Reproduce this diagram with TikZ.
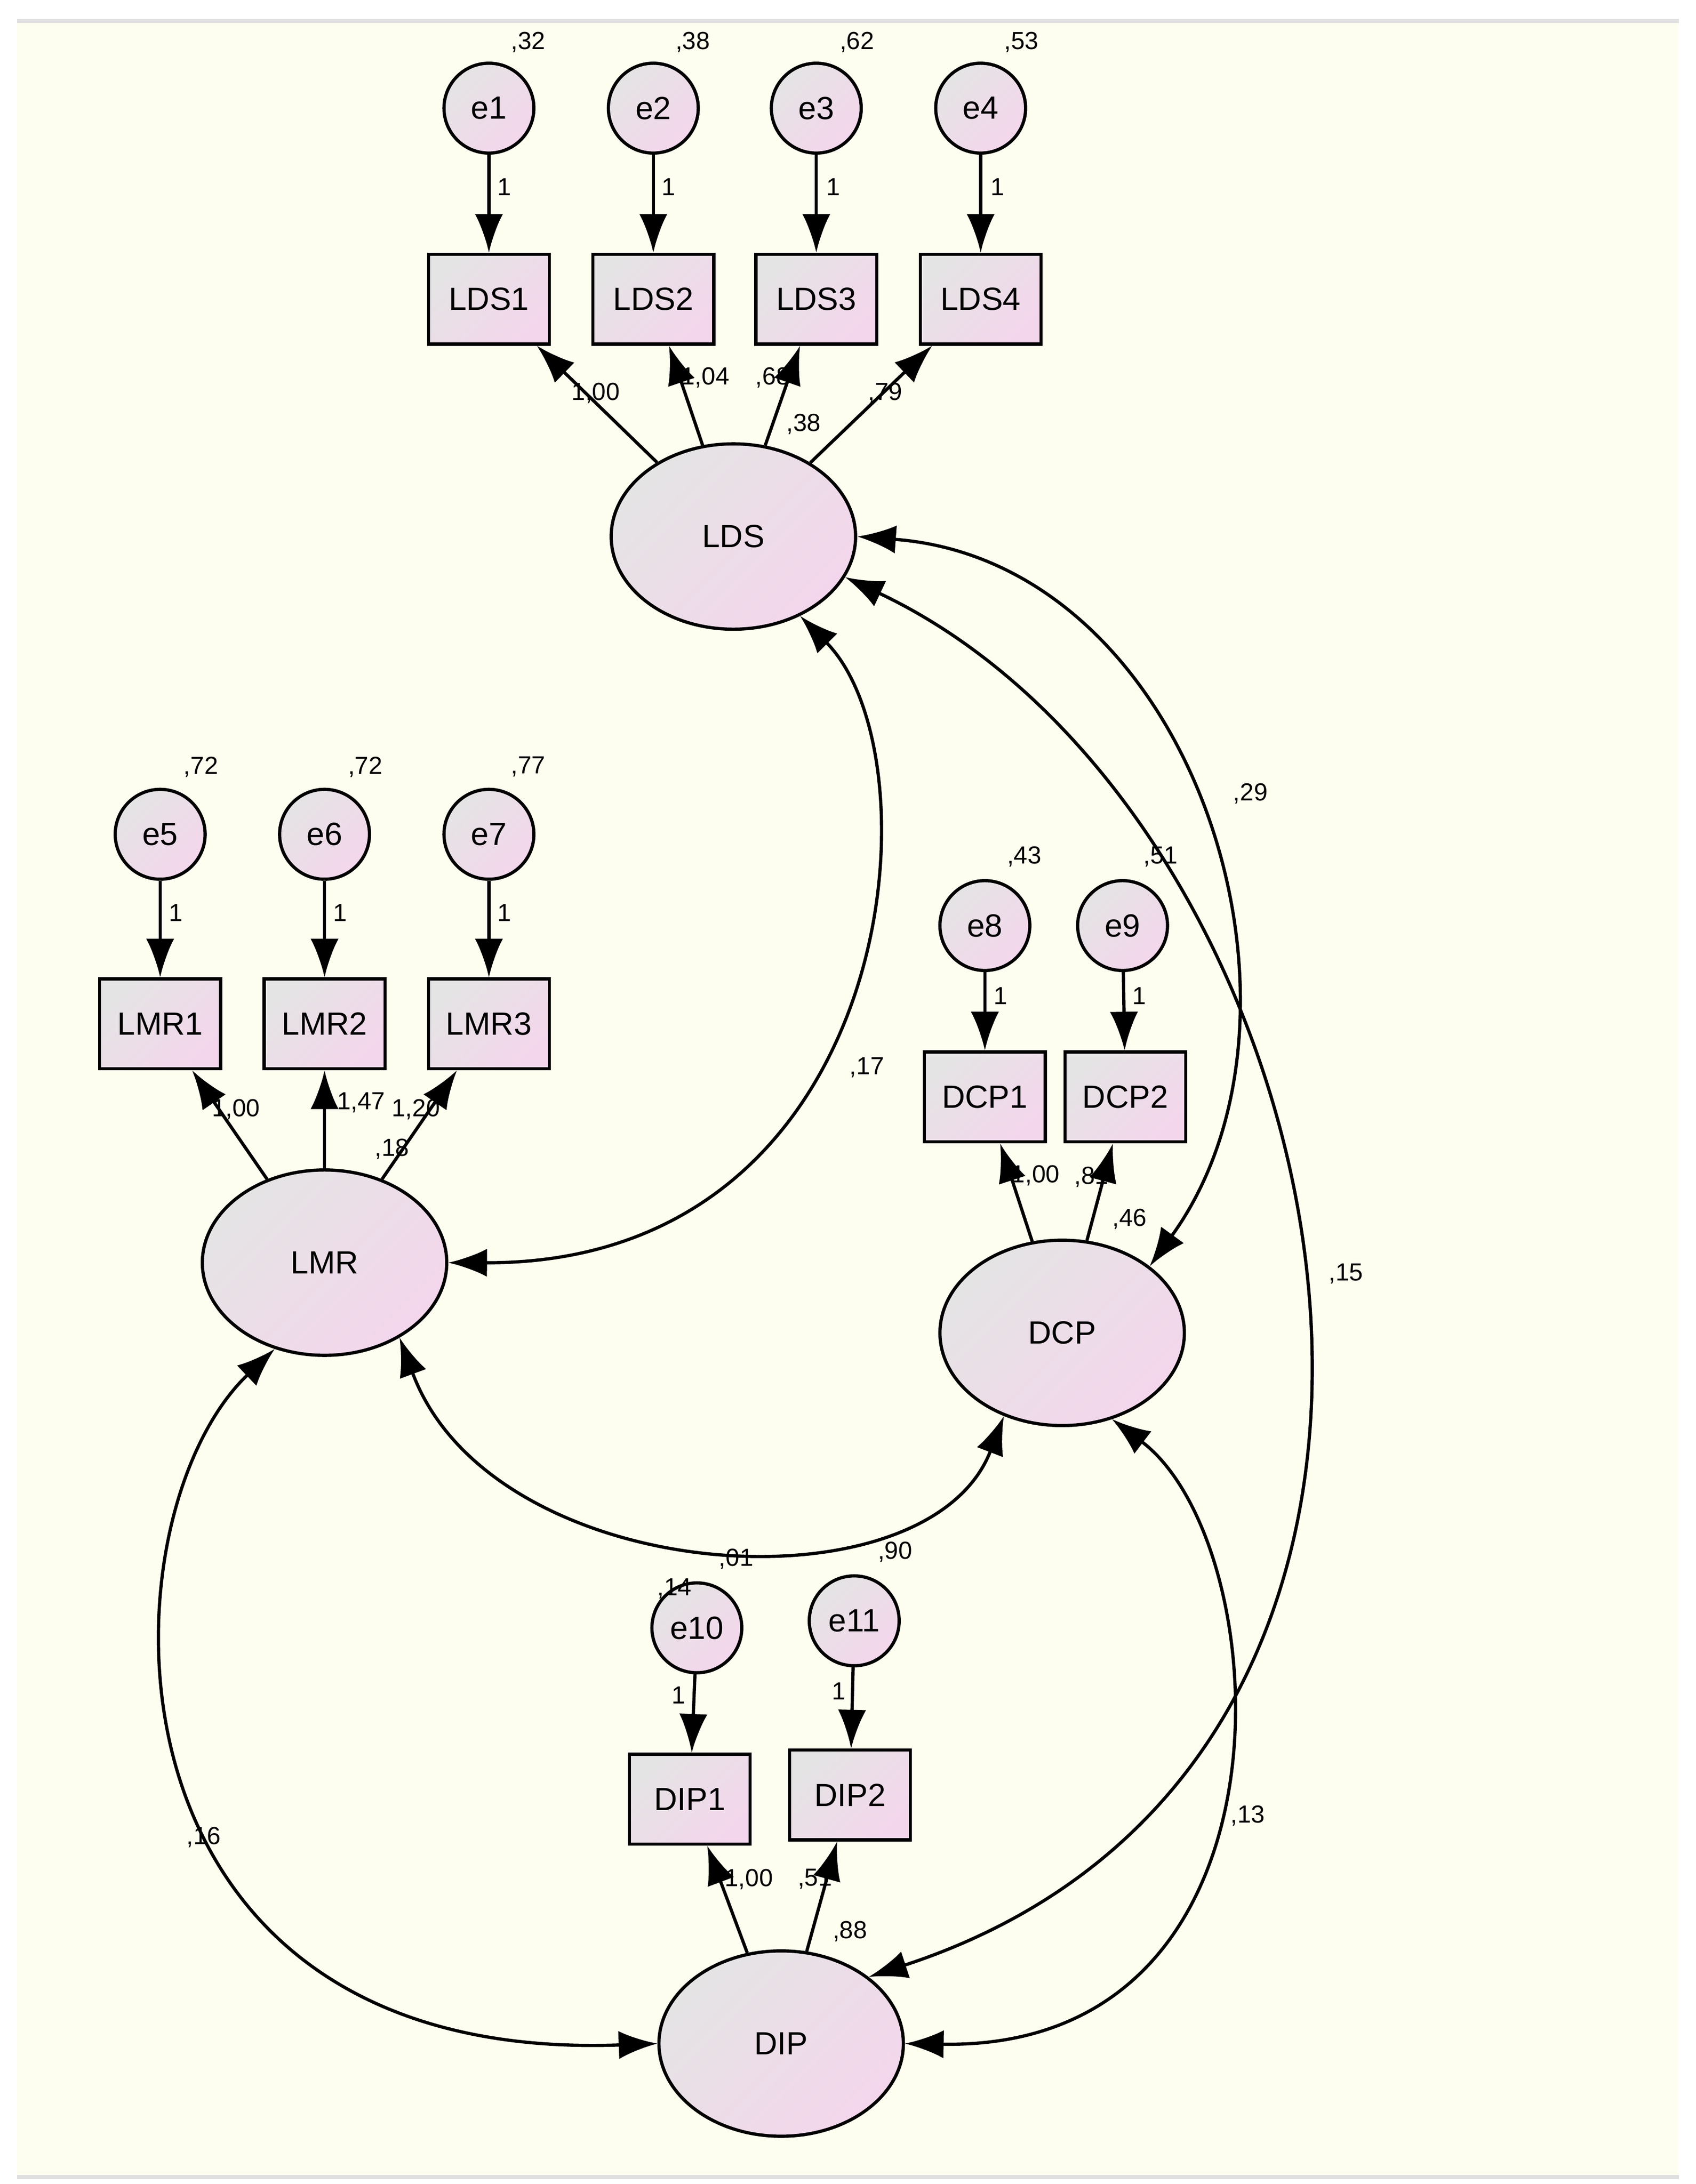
\documentclass[tikz,border=0pt]{standalone}
\usepackage{fontspec}
\setmainfont{Liberation Sans}
\usetikzlibrary{arrows.meta,shapes.geometric}
\definecolor{bg}{HTML}{FEFEF0}
\definecolor{lg}{HTML}{E4E4E4}
\definecolor{lp}{HTML}{F4D6EC}
\begin{document}
\begin{tikzpicture}[x=0.02cm,y=-0.02cm,
  every node/.style={font=\fontsize{13}{15}\selectfont},
  lat/.style={ellipse,draw,line width=1.3pt,minimum width=3.48cm,minimum height=2.64cm,left color=lg,right color=lp,shading angle=45},
  err/.style={circle,draw,line width=1.3pt,minimum size=1.28cm,inner sep=0pt,left color=lg,right color=lp,shading angle=45},
  obs/.style={rectangle,draw,line width=1.3pt,minimum width=1.72cm,minimum height=1.28cm,left color=lg,right color=lp,shading angle=45},
  lab/.style={font=\fontsize{10}{12}\selectfont,inner sep=1pt},
  ar/.style={line width=1.3pt,-{Latex[length=0.55cm,width=0.4cm]}},
  cov/.style={line width=1.3pt,{Latex[length=0.55cm,width=0.4cm]}-{Latex[length=0.55cm,width=0.4cm]}}]
\useasboundingbox (0,0) rectangle (1207,1555);
\fill[white] (0,0) rectangle (1207,1555);
\fill[bg] (12,15) rectangle (1195,1550);
\draw[gray!25,line width=1.5pt] (12,15) -- (1195,15);
\draw[gray!25,line width=1.5pt] (12,1550) -- (1195,1550);
% latent
\node[lat] (LDS) at (522,382) {LDS};
\node[lat] (LMR) at (231,899) {LMR};
\node[lat] (DCP) at (756,949) {DCP};
\node[lat] (DIP) at (556,1455) {DIP};
% observed
\node[obs] (LDS1) at (348,213) {LDS1};
\node[obs] (LDS2) at (465,213) {LDS2};
\node[obs] (LDS3) at (581,213) {LDS3};
\node[obs] (LDS4) at (698,213) {LDS4};
\node[obs] (LMR1) at (114,729) {LMR1};
\node[obs] (LMR2) at (231,729) {LMR2};
\node[obs] (LMR3) at (348,729) {LMR3};
\node[obs] (DCP1) at (701,781) {DCP1};
\node[obs] (DCP2) at (801,781) {DCP2};
\node[obs] (DIP1) at (491,1281) {DIP1};
\node[obs] (DIP2) at (605,1278) {DIP2};
% errors
\node[err] (e1) at (348,77) {e1};
\node[err] (e2) at (465,77) {e2};
\node[err] (e3) at (581,77) {e3};
\node[err] (e4) at (698,77) {e4};
\node[err] (e5) at (114,594) {e5};
\node[err] (e6) at (231,594) {e6};
\node[err] (e7) at (348,594) {e7};
\node[err] (e8) at (701,659) {e8};
\node[err] (e9) at (799,659) {e9};
\node[err] (e10) at (496,1159) {e10};
\node[err] (e11) at (608,1154) {e11};
% variance labels
\node[lab] at (376,30) {,32};
\node[lab] at (493,30) {,38};
\node[lab] at (610,30) {,62};
\node[lab] at (727,30) {,53};
\node[lab] at (143,546) {,72};
\node[lab] at (260,546) {,72};
\node[lab] at (376,546) {,77};
\node[lab] at (729,610) {,43};
\node[lab] at (826,610) {,51};
\node[lab] at (480,1131) {,14};
\node[lab] at (637,1105) {,90};
% error arrows
\foreach \e/\o in {e1/LDS1,e2/LDS2,e3/LDS3,e4/LDS4,e5/LMR1,e6/LMR2,e7/LMR3,e8/DCP1,e9/DCP2,e10/DIP1,e11/DIP2}
  \draw[ar] (\e) -- (\o);
\foreach \x/\y in {359/133,476/133,593/133,710/133,125/650,242/650,359/650,712/709,811/709}
  \node[lab] at (\x,\y) {1};
\node[lab] at (483,1207) {1};
\node[lab] at (597,1204) {1};
% loadings
\foreach \l/\o in {LDS/LDS1,LDS/LDS2,LDS/LDS3,LDS/LDS4,LMR/LMR1,LMR/LMR2,LMR/LMR3,DCP/DCP1,DCP/DCP2,DIP/DIP1,DIP/DIP2}
  \draw[ar] (\l) -- (\o);
\node[lab] at (424,280) {1,00};
\node[lab] at (502,269) {1,04};
\node[lab] at (550,269) {,68};
\node[lab] at (572,302) {,38};
\node[lab] at (630,280) {,79};
\node[lab] at (168,790) {1,00};
\node[lab] at (257,785) {1,47};
\node[lab] at (296,790) {1,20};
\node[lab] at (279,818) {,18};
\node[lab] at (737,837) {1,00};
\node[lab] at (777,838) {,81};
\node[lab] at (804,868) {,46};
\node[lab] at (533,1338) {1,00};
\node[lab] at (580,1338) {,51};
\node[lab] at (605,1375) {,88};
% covariances
\draw[cov] (LDS.-50) .. controls (670,540) and (640,900) .. (LMR.east);
\draw[cov] (LDS.east) .. controls (850,400) and (950,720) .. (DCP.north east);
\draw[cov] (LDS.-20) .. controls (960,580) and (1100,1250) .. (DIP.north east);
\draw[cov] (LMR.-45) .. controls (350,1130) and (660,1150) .. (DCP.-125);
\draw[cov] (LMR.-120) .. controls (70,1080) and (60,1470) .. (DIP.west);
\draw[cov] (DCP.-60) .. controls (910,1100) and (930,1460) .. (DIP.east);
\node[lab] at (617,760) {,17};
\node[lab] at (890,565) {,29};
\node[lab] at (958,907) {,15};
\node[lab] at (524,1110) {,01};
\node[lab] at (145,1308) {,16};
\node[lab] at (888,1293) {,13};
\end{tikzpicture}
\end{document}
